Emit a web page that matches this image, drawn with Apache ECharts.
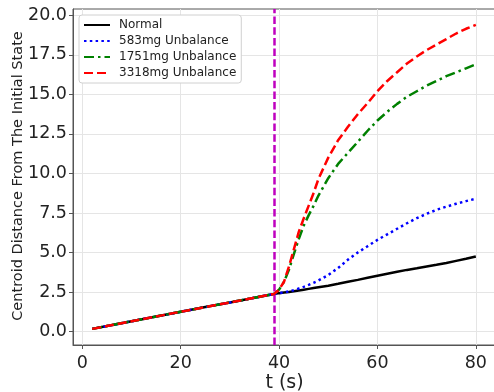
<!DOCTYPE html>
<html>
<head>
<meta charset="utf-8">
<script src="https://cdn.jsdelivr.net/npm/echarts@6/dist/echarts.min.js"></script>
<style>html,body{margin:0;padding:0;background:#fff}#c{width:494px;height:392px}</style>
</head>
<body>
<div id="c"></div>
<script>
var times = [2,5,10,15,20,25,30,35,39,40,41,42,43,44,45,46,47,48,50,52,54,56,58,60,62,64,66,68,70,72,74,76,78,80];
var common = [0.17,0.35,0.65,0.95,1.25,1.55,1.84,2.14,2.38];
var normalAfter = [2.43,2.47,2.5,2.55,2.6,2.65,2.7,2.75,2.8,2.9,3.02,3.15,3.27,3.4,3.53,3.66,3.78,3.9,4.0,4.11,4.22,4.34,4.47,4.6,4.75];
var u583After = [2.43,2.48,2.54,2.62,2.72,2.83,2.95,3.08,3.23,3.58,4.02,4.55,5.0,5.4,5.8,6.15,6.5,6.85,7.17,7.45,7.7,7.9,8.08,8.25,8.4];
var u1751After = [2.65,3.15,3.9,4.9,5.85,6.7,7.35,7.95,8.6,9.7,10.6,11.3,12.0,12.7,13.35,13.9,14.4,14.85,15.2,15.55,15.85,16.15,16.4,16.65,16.9];
var u3318After = [2.65,3.15,4.1,5.2,6.3,7.15,7.95,8.75,9.65,11.0,12.1,12.95,13.75,14.45,15.2,15.85,16.4,16.95,17.4,17.8,18.15,18.5,18.85,19.15,19.4];
var seriesNames = ['Normal','583mg Unbalance','1751mg Unbalance','3318mg Unbalance'];
var xTicks = [0,20,40,60,80];
var yTicks = [0,2.5,5,7.5,10,12.5,15,17.5,20];
var onsetTime = 39;
var yTitle = 'Centroid Distance From The Initial State';

function pairs(after){
  var v = common.concat(after);
  return times.map(function(t,i){return [t, v[i]];});
}
var chart = echarts.init(document.getElementById('c'), null, {renderer:'canvas'});
var FONT = 'DejaVu Sans';
chart.setOption({
  animation:false,
  backgroundColor:'#fff',
  grid:{left:73, top:9, right:-2, bottom:47, show:true, borderColor:'#555', borderWidth:1,
        backgroundColor:'transparent', containLabel:false, outerBoundsMode:'none'},
  graphic:[{
    type:'text', x:18, y:176, rotation:Math.PI/2, silent:true,
    style:{text:yTitle, fontFamily:FONT, fontSize:14.5, fill:'#222', align:'center', verticalAlign:'middle'}
  }],
  legend:{
    show:true,
    orient:'vertical', left:79, top:15,
    padding:[4,5,4,4], itemGap:4, itemWidth:26, itemHeight:14,
    backgroundColor:'#ffffff', borderColor:'#d0d0d0', borderWidth:1, borderRadius:3,
    itemStyle:{opacity:0},
    textStyle:{fontFamily:FONT, fontSize:12, color:'#222', padding:[0,0,0,4]},
    data:seriesNames
  },
  xAxis:{
    type:'value', min:-1.9, max:84.1,
    name:'t (s)', nameLocation:'middle', nameGap:29, nameMoveOverlap:false,
    nameTextStyle:{fontFamily:FONT, fontSize:19, color:'#222'},
    axisLine:{show:true, onZero:false, lineStyle:{color:'#555', width:1}},
    axisTick:{show:true, length:4, inside:false, customValues:xTicks, lineStyle:{color:'#555'}},
    axisLabel:{customValues:xTicks, fontFamily:FONT, fontSize:17.5, color:'#222', margin:9},
    splitLine:{show:false}
  },
  yAxis:{
    type:'value', min:-0.85, max:20.4,
    axisLine:{show:true, onZero:false, lineStyle:{color:'#555', width:1}},
    axisTick:{show:true, length:4, customValues:yTicks, lineStyle:{color:'#555'}},
    axisLabel:{customValues:yTicks, fontFamily:FONT, fontSize:17.5, color:'#222', margin:6,
      formatter:function(v){return Number(v).toFixed(1);}},
    splitLine:{show:false}
  },
  series:[
    {type:'line', name:'gridlines', data:[], silent:true, z:0, zlevel:0,
     markLine:{silent:true, symbol:'none', label:{show:false}, z:0,
       lineStyle:{color:'#e5e5e5', width:1, type:'solid'},
       data: xTicks.map(function(t){return {xAxis:t};}).concat(yTicks.map(function(t){return {yAxis:t};}))}},
    {type:'line', name:seriesNames[0], data:pairs(normalAfter), showSymbol:false, symbol:'none', z:3,
     lineStyle:{color:'#000', width:2.5, type:'solid'}, itemStyle:{color:'#000'}},
    {type:'line', name:seriesNames[1], data:pairs(u583After), showSymbol:false, symbol:'none', z:4,
     lineStyle:{color:'#0000ff', width:2.5, type:[2.5,3.3]}, itemStyle:{color:'#0000ff'}},
    {type:'line', name:seriesNames[2], data:pairs(u1751After), showSymbol:false, symbol:'none', z:5,
     lineStyle:{color:'#008000', width:2.5, type:[10,4,2.5,4]}, itemStyle:{color:'#008000'}},
    {type:'line', name:seriesNames[3], data:pairs(u3318After), showSymbol:false, symbol:'none', z:6,
     lineStyle:{color:'#ff0000', width:2.5, type:[9,4]}, itemStyle:{color:'#ff0000'},
     markLine:{silent:true, symbol:'none', label:{show:false},
       lineStyle:{color:'#bf00bf', width:2.5, type:[7.5,3.2]},
       data:[{xAxis:onsetTime}]}}
  ]
});
</script>
</body>
</html>
